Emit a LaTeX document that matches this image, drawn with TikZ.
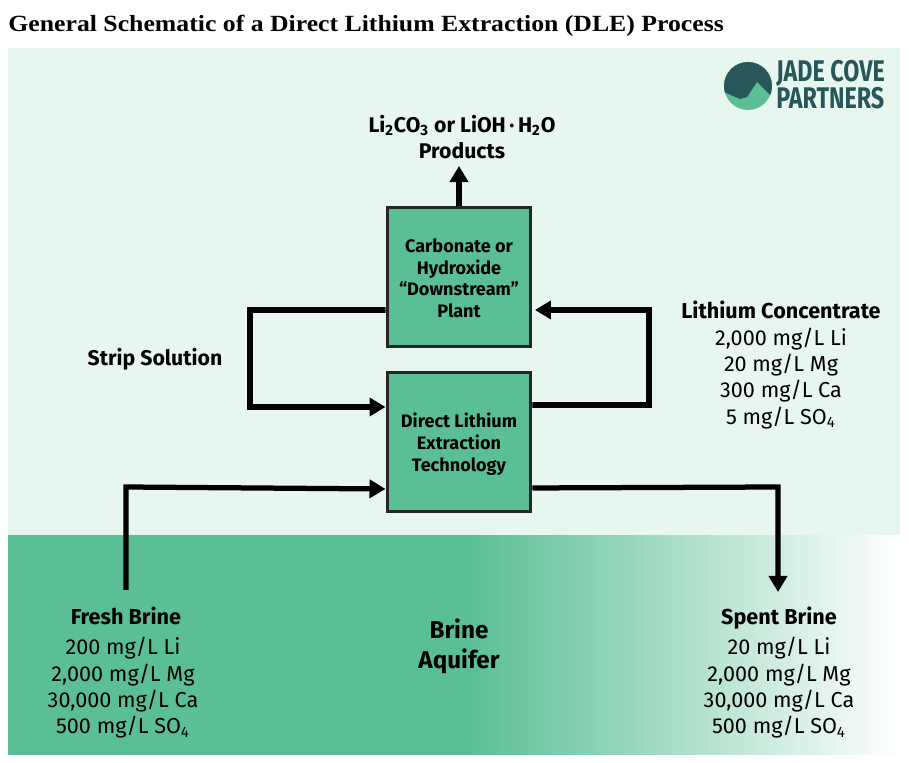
\documentclass[tikz,border=0pt]{standalone}
\usepackage{fontspec}
\setmainfont{Fira Sans}
\newfontfamily\titlefont{Liberation Serif}
\usetikzlibrary{arrows.meta}
\definecolor{palegreen}{HTML}{E8F6F0}
\definecolor{brinegreen}{HTML}{5BBF95}
\definecolor{jadedark}{HTML}{28565A}
\tikzset{
  unitbox/.style={draw=black!85,line width=0.6mm,fill=brinegreen,minimum width=2.88cm,minimum height=2.78cm,align=center,font=\fontsize{10.3}{12.5}\selectfont\bfseries},
  label/.style={align=center,font=\fontsize{12.3}{15}\selectfont},
  boldlabel/.style={align=center,font=\fontsize{12.1}{15}\selectfont\bfseries},
  flow/.style={line width=1.15mm,-{Triangle[length=3.2mm,width=3.6mm]}},
  feed/.style={line width=1.05mm,-{Triangle[length=3.2mm,width=3.6mm]}},
  logotext/.style={text=jadedark,font=\fontsize{17}{17}\selectfont\bfseries,transform shape,xscale=0.78,inner sep=0pt,anchor=west}
}
\begin{document}
\begin{tikzpicture}[x=0.02cm,y=0.02cm]
  \useasboundingbox (0,0) rectangle (909,763);
  % background
  \fill[brinegreen] (8,8) rectangle (470,228);
  \shade[left color=brinegreen,right color=white,shading angle=90] (470,8) rectangle (900,228);
  \fill[palegreen] (8,228) rectangle (900,715);
  % title
  \node[anchor=west,inner sep=0pt,transform shape,xscale=1.11,font=\titlefont\fontsize{13.2}{15}\selectfont\bfseries] (title) at (8,737)
    {General Schematic of a Direct Lithium Extraction (DLE) Process};
  % logo
  \fill[brinegreen] (748,677) circle (24);
  \begin{scope}
    \clip (748,677) circle (24);
    \fill[jadedark] (720,672) -- (726,670) -- (740,664) -- (747,666) -- (757,681) -- (772,666) -- (776,664) -- (776,705) -- (720,705) -- cycle;
  \end{scope}
  \node[logotext] (jade) at (776,690) {JADE COVE};
  \node[logotext] (partners) at (776,665) {PARTNERS};
  % units
  \node[unitbox] (plant) at (459,486) {\rule{0pt}{9.3pt}Carbonate or\\Hydroxide\\“Downstream”\\Plant};
  \node[unitbox] (dle) at (459,321) {\rule{0pt}{11pt}Direct Lithium\\Extraction\\Technology};
  % labels
  \node[boldlabel] (products) at (462,626) {Li\textsubscript{2}CO\textsubscript{3} or LiOH\,·\,H\textsubscript{2}O\\Products};
  \node[boldlabel] (strip) at (155,404) {Strip Solution};
  \node[label] (conc) at (781,398) {\textbf{Lithium Concentrate}\\2,000 mg/L Li\\20 mg/L Mg\\300 mg/L Ca\\5 mg/L SO\textsubscript{4}};
  \node[label] (fresh) at (123,90) {\hspace*{0.12cm}\textbf{Fresh Brine}\\[2pt]200 mg/L Li\\2,000 mg/L Mg\\30,000 mg/L Ca\\500 mg/L SO\textsubscript{4}};
  \node[label] (spent) at (779,90) {\textbf{Spent Brine}\\[2pt]20 mg/L Li\\2,000 mg/L Mg\\30,000 mg/L Ca\\500 mg/L SO\textsubscript{4}};
  \node[boldlabel,font=\fontsize{13.8}{17}\selectfont\bfseries] (aquifer) at (459,117) {Brine\\Aquifer};
  % free ends of the feed lines
  \coordinate (freshend) at (126,173);
  \coordinate (spentend) at (778,171);
  % connectors
  \draw[flow] (plant.north) to ([yshift=0.8cm]plant.north);
  \draw[flow] ([yshift=-0.66cm]plant.west) -- (250,453) -- (250,356) -- ([yshift=0.7cm]dle.west);
  \draw[flow] ([yshift=0.74cm]dle.east) -- (649,358) -- (649,453) -- ([xshift=0.05cm,yshift=-0.66cm]plant.east);
  \draw[feed] (freshend) -- (126,276) -- ([yshift=-0.94cm]dle.west);
  \draw[feed] ([yshift=-0.92cm]dle.east) -- (778,276) -- (spentend);
\end{tikzpicture}
\end{document}
